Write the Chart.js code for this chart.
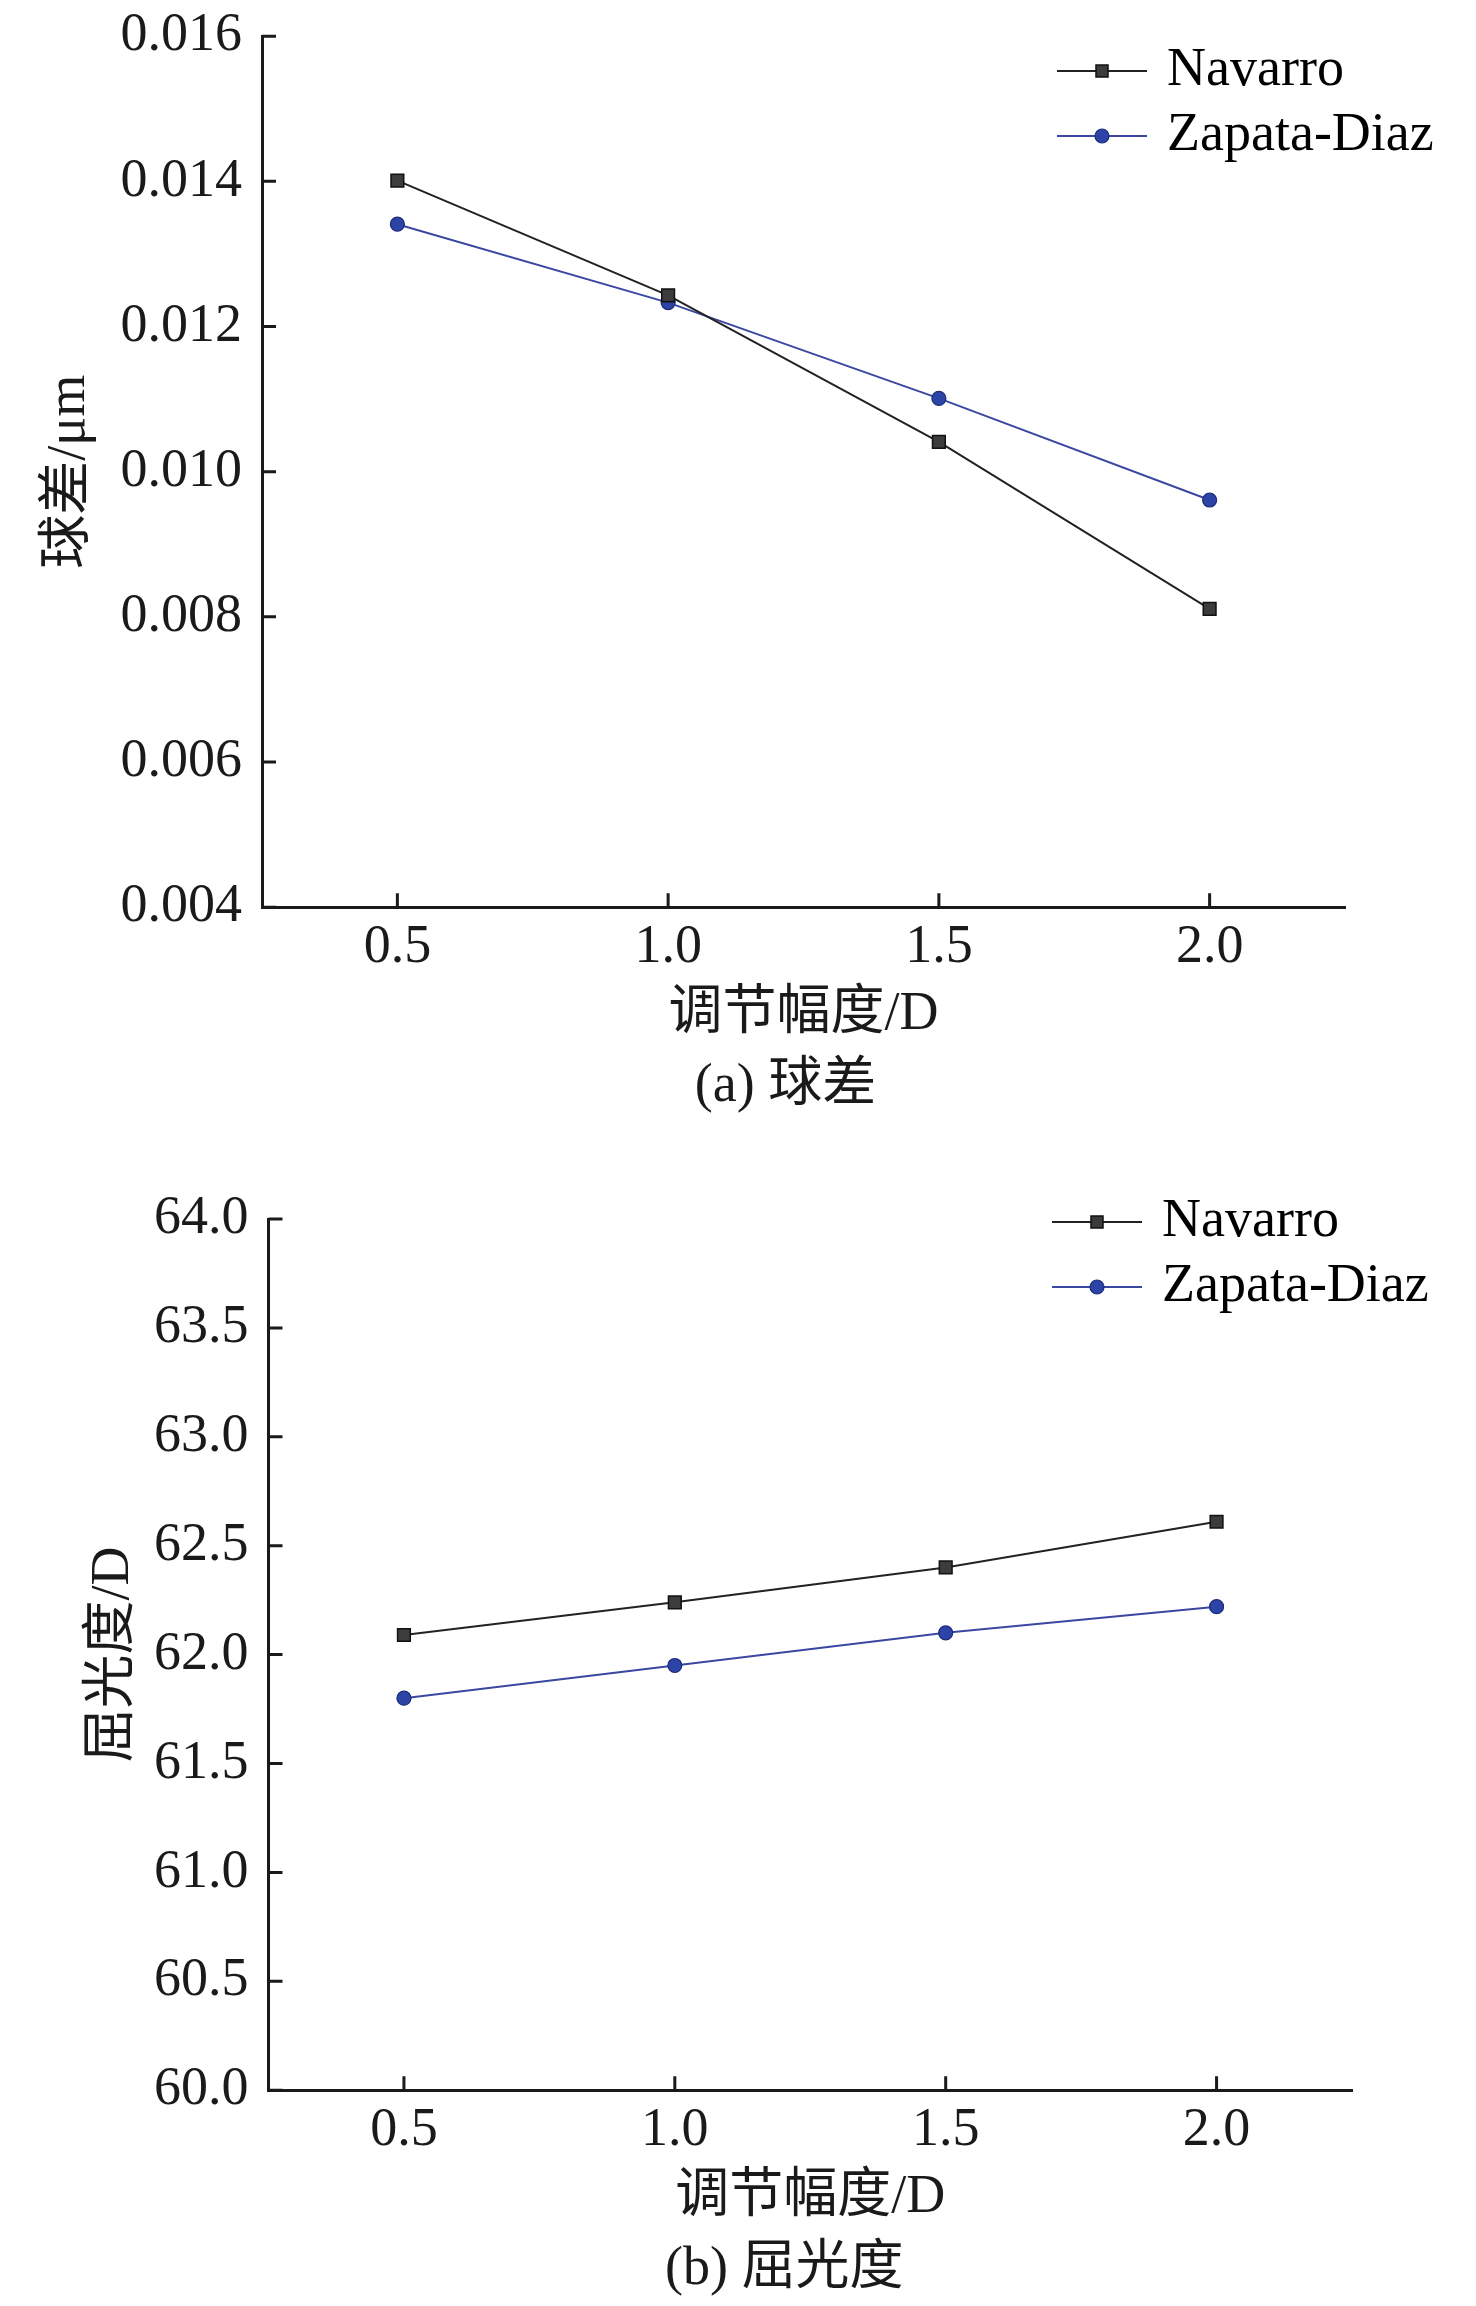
<!DOCTYPE html>
<html>
<head>
<meta charset="utf-8">
<script src="https://cdn.jsdelivr.net/npm/chart.js@4.4.1/dist/chart.umd.min.js"></script>
<style>
  html, body { margin: 0; padding: 0; background: #fff; }
  .panel { position: relative; width: 1476px; }
</style>
</head>
<body>
<div class="panel" style="height:1150px"><canvas id="sphChart"></canvas></div>
<div class="panel" style="height:1156px"><canvas id="refChart"></canvas></div>
<script>
// accommodation amplitude (D) on the x axis
const amplitudes = [0.5, 1.0, 1.5, 2.0];
const seriesNames = ['Navarro', 'Zapata-Diaz'];

// (a) spherical aberration, um
const sphNavarro = [0.01401, 0.01243, 0.01041, 0.00811];
const sphZapata  = [0.01341, 0.01233, 0.01101, 0.00961];
const sphTicks   = [0.004, 0.006, 0.008, 0.010, 0.012, 0.014, 0.016];

// (b) refractive power, D
const refNavarro = [62.09, 62.24, 62.40, 62.61];
const refZapata  = [61.80, 61.95, 62.10, 62.22];
const refTicks   = [60.0, 60.5, 61.0, 61.5, 62.0, 62.5, 63.0, 63.5, 64.0];

const FONT = '"Liberation Serif", "Noto Sans CJK SC", serif';
const INK = '#1a1a1a';
const NAV_LINE = '#222222';
const ZAP_LINE = '#3a48a2';

// little line+marker picture for the legend
function legendIcon(kind) {
  const c = document.createElement('canvas');
  c.width = 90; c.height = 20;
  const g = c.getContext('2d');
  g.strokeStyle = kind === 'rect' ? NAV_LINE : ZAP_LINE;
  g.lineWidth = 2;
  g.beginPath(); g.moveTo(0, 10); g.lineTo(90, 10); g.stroke();
  if (kind === 'rect') {
    g.fillStyle = '#3c3c3c'; g.fillRect(39, 4, 12, 12);
    g.strokeStyle = '#111'; g.lineWidth = 1.5; g.strokeRect(39, 4, 12, 12);
  } else {
    g.fillStyle = '#2c44a6';
    g.beginPath(); g.arc(45, 10, 7, 0, Math.PI * 2); g.fill();
    g.strokeStyle = '#1d2b78'; g.lineWidth = 1.2; g.stroke();
  }
  return c;
}
const icons = [legendIcon('rect'), legendIcon('circle')];

// ticks pointing into the plot, like the original figure
const inwardTicks = {
  id: 'inwardTicks',
  afterDatasetsDraw(chart) {
    const {ctx, chartArea, scales: {x, y}} = chart;
    ctx.save();
    ctx.strokeStyle = INK;
    ctx.lineWidth = 3;
    ctx.beginPath();
    y.ticks.forEach(t => {
      const p = y.getPixelForValue(t.value);
      ctx.moveTo(chartArea.left, p); ctx.lineTo(chartArea.left + 14, p);
    });
    x.ticks.forEach(t => {
      const p = x.getPixelForValue(t.value);
      ctx.moveTo(p, chartArea.bottom); ctx.lineTo(p, chartArea.bottom - 14);
    });
    ctx.stroke();
    ctx.restore();
  }
};

// legend sits top right, partly past the axis end; caption a bit left of centre
const placeBoxes = {
  id: 'placeBoxes',
  afterLayout(chart, args, opts) {
    const lg = chart.legend;
    if (lg) {
      lg.left = opts.legendLeft;
      lg.top = opts.legendTop;
      lg.right = opts.legendLeft + 460;
      lg.bottom = opts.legendTop + 200;
      lg.width = 460;
      lg.height = 200;
    }
    const tb = chart.titleBlock;
    if (tb) {
      tb.left += opts.captionShift;
      tb.right += opts.captionShift;
    }
  }
};

function makeChart(id, s) {
  const pts = arr => amplitudes.map((a, i) => ({x: a, y: arr[i]}));
  return new Chart(document.getElementById(id), {
    type: 'line',
    data: {
      datasets: [{
        label: seriesNames[0],
        data: pts(s.navarro),
        borderColor: NAV_LINE,
        borderWidth: 2,
        pointStyle: 'rect',
        pointRadius: 9,
        pointBackgroundColor: '#3c3c3c',
        pointBorderColor: '#111',
        pointBorderWidth: 1.5,
        tension: 0
      }, {
        label: seriesNames[1],
        data: pts(s.zapata),
        borderColor: ZAP_LINE,
        borderWidth: 2,
        pointStyle: 'circle',
        pointRadius: 7,
        pointBackgroundColor: '#2c44a6',
        pointBorderColor: '#1d2b78',
        pointBorderWidth: 1.2,
        tension: 0
      }]
    },
    options: {
      responsive: true,
      maintainAspectRatio: false,
      animation: false,
      layout: { padding: s.pad },
      scales: {
        x: {
          type: 'linear',
          min: 0.25,
          max: 2.25,
          afterBuildTicks: sc => { sc.ticks = amplitudes.map(v => ({value: v})); },
          grid: { display: false, drawTicks: false },
          border: { display: true, color: INK, width: 3 },
          ticks: {
            color: INK, padding: 8, maxRotation: 0, autoSkip: false,
            font: { family: FONT, size: 54, lineHeight: 1.2 },
            callback: v => Number(v).toFixed(1)
          },
          title: {
            display: true, text: '调节幅度/D', color: INK,
            font: { family: FONT, size: 54, lineHeight: 1 },
            padding: { top: 0, bottom: 0 }
          }
        },
        y: {
          type: 'linear',
          min: s.ticks[0],
          max: s.ticks[s.ticks.length - 1],
          afterBuildTicks: sc => { sc.ticks = s.ticks.map(v => ({value: v})); },
          grid: { display: false, drawTicks: false },
          border: { display: true, color: INK, width: 3 },
          ticks: {
            color: INK, padding: 20, autoSkip: false,
            font: { family: FONT, size: 54, lineHeight: 0.6 },
            callback: v => Number(v).toFixed(s.decimals)
          },
          title: {
            display: true, text: s.yTitle, color: INK,
            font: { family: FONT, size: 54, lineHeight: 1 },
            padding: s.yTitlePad
          }
        }
      },
      plugins: {
        legend: {
          position: 'chartArea',
          align: 'start',
          labels: {
            usePointStyle: true,
            pointStyleWidth: 76,
            padding: 11,
            color: INK,
            font: { family: FONT, size: 54 },
            generateLabels: chart => chart.data.datasets.map((ds, i) => ({
              text: ds.label,
              pointStyle: icons[i],
              fillStyle: 'transparent',
              strokeStyle: 'transparent',
              lineWidth: 0,
              hidden: false,
              datasetIndex: i
            }))
          }
        },
        title: {
          display: true,
          position: 'bottom',
          fullSize: false,
          text: s.caption,
          color: INK,
          font: { family: FONT, size: 54, lineHeight: 1, weight: 'normal' },
          padding: { top: 18, bottom: 0 }
        },
        tooltip: { enabled: false },
        placeBoxes: s.boxes
      }
    },
    plugins: [inwardTicks, placeBoxes]
  });
}

makeChart('sphChart', {
  navarro: sphNavarro,
  zapata: sphZapata,
  ticks: sphTicks,
  decimals: 3,
  yTitle: '球差/μm',
  yTitlePad: { top: 0, bottom: 3.5 },
  caption: '(a) 球差',
  pad: { left: 43, top: 36, right: 131, bottom: 36 },
  boxes: { legendLeft: 1053, legendTop: 33, captionShift: -18 }
});

makeChart('refChart', {
  navarro: refNavarro,
  zapata: refZapata,
  ticks: refTicks,
  decimals: 1,
  yTitle: '屈光度/D',
  yTitlePad: { top: 7, bottom: -7 },
  caption: '(b) 屈光度',
  pad: { left: 80, top: 69, right: 124, bottom: 9 },
  boxes: { legendLeft: 1048, legendTop: 34, captionShift: -26 }
});
</script>
</body>
</html>
